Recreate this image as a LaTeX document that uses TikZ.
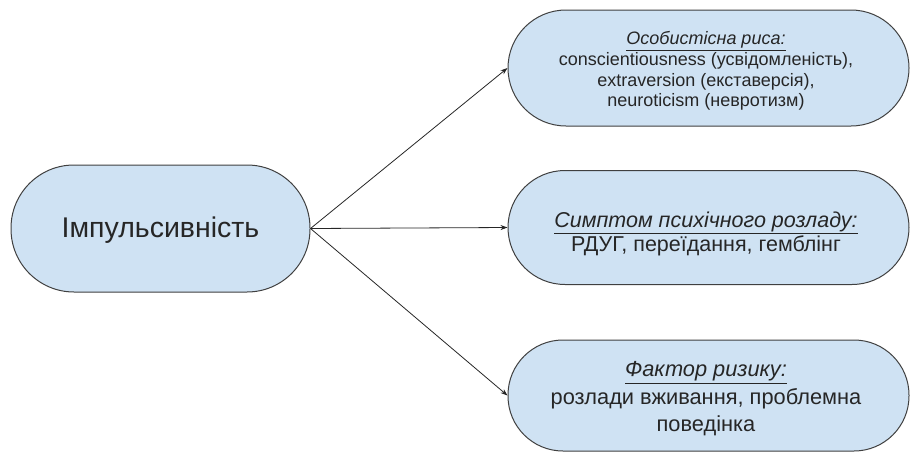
\documentclass[tikz,border=0pt]{standalone}
\usepackage{fontspec}
\setmainfont{Liberation Sans}
\usetikzlibrary{arrows.meta}
\definecolor{boxfill}{HTML}{CFE2F3}
\definecolor{boxline}{HTML}{404040}
\tikzset{
  pill/.style={draw=boxline, line width=1pt, fill=boxfill, rounded corners=#1, inner sep=0pt},
  label/.style={align=center, inner sep=0pt, text=black!85},
  conn/.style={draw=black!85, line width=0.8pt, -{Stealth[length=7pt,width=5pt]}}
}
\begin{document}
\begin{tikzpicture}[x=1pt,y=-1pt]
\useasboundingbox (0,0) rectangle (911,453);
\node[pill=63pt, minimum width=299pt, minimum height=127pt] (imp) at (160.5,228.5) {};
\node[label, font=\fontsize{28.5}{32}\selectfont] (impt) at (160.5,230) {Імпульсивність};
\node[pill=58pt, minimum width=401pt, minimum height=116pt] (trait) at (708.5,68) {};
\node[label, font=\fontsize{18}{20.7}\selectfont] (traitt) at (706,71)
  {\underline{\textit{Особистісна риса:}}\\conscientiousness (усвідомленість),\\extraversion (екставерсія),\\neuroticism (невротизм)};
\node[pill=57pt, minimum width=401pt, minimum height=114pt] (symp) at (708.5,227.5) {};
\node[label, font=\fontsize{21.5}{23.5}\selectfont] (sympt) at (706,234)
  {\underline{\textit{Симптом психічного розладу:}}\\РДУГ, переїдання, гемблінг};
\node[pill=55pt, minimum width=401pt, minimum height=111pt] (risk) at (708.5,395.5) {};
\node[label, font=\fontsize{21.8}{27.5}\selectfont] (riskt) at (706,399)
  {\underline{\textit{Фактор ризику:}}\\розлади вживання, проблемна\\поведінка};
\draw[conn] (imp.east) -- (trait.west);
\draw[conn] (imp.east) -- (symp.west);
\draw[conn] (imp.east) -- (risk.west);
\end{tikzpicture}
\end{document}
